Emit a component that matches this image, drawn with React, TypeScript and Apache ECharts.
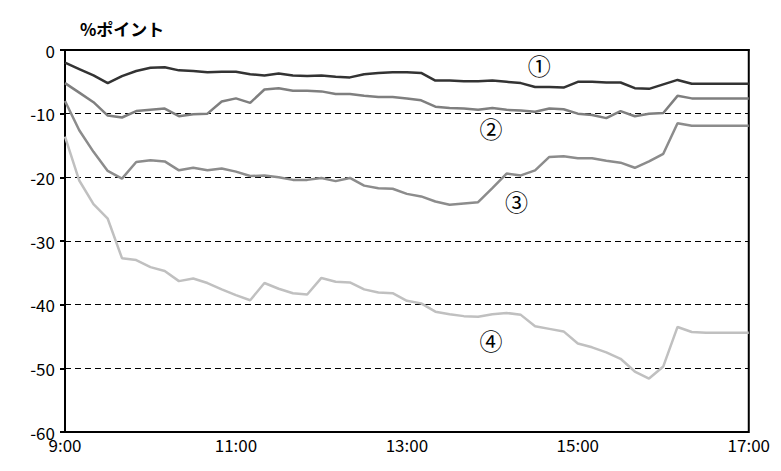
import React, { useEffect, useRef } from "react";
import * as echarts from "echarts";

// minutes after 9:00, every 10 minutes
const minutes = Array.from({ length: 49 }, (_, i) => i * 10);

const line1 = [
  -2.0, -3.0, -4.0, -5.2, -4.1, -3.3, -2.8, -2.7, -3.2, -3.3, -3.5, -3.4, -3.4, -3.8, -4.0, -3.7,
  -4.0, -4.1, -4.0, -4.2, -4.3, -3.8, -3.6, -3.5, -3.5, -3.6, -4.8, -4.8, -4.9, -4.9, -4.8, -5.0,
  -5.2, -5.8, -5.8, -5.9, -5.0, -5.0, -5.1, -5.1, -6.0, -6.1, -5.4, -4.7, -5.3, -5.3, -5.3, -5.3, -5.3,
];
const line2 = [
  -5.2, -6.7, -8.2, -10.3, -10.6, -9.6, -9.4, -9.2, -10.4, -10.1, -10.0, -8.1, -7.6, -8.3, -6.2, -6.0,
  -6.4, -6.4, -6.5, -6.9, -6.9, -7.2, -7.4, -7.4, -7.6, -7.9, -8.9, -9.1, -9.2, -9.4, -9.1, -9.4,
  -9.5, -9.7, -9.2, -9.3, -10.0, -10.2, -10.7, -9.6, -10.4, -10.0, -9.9, -7.2, -7.6, -7.6, -7.6, -7.6, -7.6,
];
const line3 = [
  -8.0, -12.6, -16.0, -19.0, -20.2, -17.6, -17.3, -17.5, -18.9, -18.5, -18.9, -18.6, -19.1, -19.8, -19.7, -20.0,
  -20.4, -20.4, -20.1, -20.6, -20.1, -21.3, -21.7, -21.8, -22.6, -23.0, -23.8, -24.3, -24.1, -23.9, -21.7, -19.4,
  -19.7, -18.9, -16.8, -16.7, -17.0, -17.0, -17.4, -17.7, -18.5, -17.5, -16.3, -11.5, -11.9, -11.9, -11.9, -11.9, -11.9,
];
const line4 = [
  -13.6, -20.5, -24.2, -26.5, -32.7, -33.0, -34.1, -34.7, -36.3, -35.9, -36.6, -37.6, -38.5, -39.3, -36.6, -37.5,
  -38.2, -38.4, -35.8, -36.4, -36.5, -37.6, -38.1, -38.2, -39.4, -39.8, -41.1, -41.5, -41.8, -41.9, -41.5, -41.3,
  -41.6, -43.4, -43.8, -44.2, -46.1, -46.7, -47.5, -48.5, -50.5, -51.6, -49.7, -43.5, -44.3, -44.4, -44.4, -44.4, -44.4,
];

const seriesNames = ["①", "②", "③", "④"];
const seriesColors = ["#333333", "#7f7f7f", "#8c8c8c", "#c0c0c0"];
// label anchor [minute, value]
const labelAnchors = [
  [333, -2.4],
  [299, -12.2],
  [317, -23.7],
  [299, -45.5],
];

const font = '"Noto Sans CJK JP", "Noto Sans", sans-serif';

export default function App() {
  const chartRef = useRef<HTMLDivElement>(null);

  useEffect(() => {
    const chart = echarts.init(chartRef.current!, null, { renderer: "svg" });
    const data = [line1, line2, line3, line4];

    chart.setOption({
      animation: false,
      textStyle: { fontFamily: font },
      grid: {
        left: 57,
        right: 23,
        top: 42,
        bottom: 31,
        show: true,
        borderColor: "#000",
        borderWidth: 2,
      },
      graphic: [
        {
          type: "text",
          left: 72,
          top: 12,
          style: { text: "%ポイント", font: `bold 17px ${font}`, fill: "#000" },
        },
      ],
      xAxis: {
        type: "value",
        min: 0,
        max: 480,
        interval: 120,
        axisLine: { show: true, lineStyle: { color: "#000", width: 2 } },
        axisTick: { show: false },
        splitLine: { show: false },
        axisLabel: {
          color: "#000",
          fontSize: 17,
          margin: 4,
          formatter: (v: number) => `${9 + v / 60}:00`,
        },
      },
      yAxis: {
        type: "value",
        min: -60,
        max: 0,
        interval: 10,
        axisLine: { show: true, lineStyle: { color: "#000", width: 2 } },
        axisTick: { show: true, inside: false, length: 5, lineStyle: { color: "#000", width: 2 } },
        splitLine: { show: true, lineStyle: { color: "#000", type: [6, 4], width: 1 } },
        axisLabel: { color: "#000", fontSize: 17, margin: 10 },
      },
      series: data.map((d, k) => ({
        name: seriesNames[k],
        type: "line",
        data: d.map((v, i) => [minutes[i], v]),
        symbol: "none",
        lineStyle: { color: seriesColors[k], width: 2.5 },
        z: 10 - k,
        markPoint: {
          symbol: "circle",
          symbolSize: 0,
          label: {
            show: true,
            formatter: seriesNames[k],
            color: "#000",
            fontSize: 23,
            position: "inside",
          },
          data: [{ coord: labelAnchors[k] }],
        },
      })),
    });

    return () => chart.dispose();
  }, []);

  return <div ref={chartRef} style={{ width: 765, height: 455 }} />;
}
